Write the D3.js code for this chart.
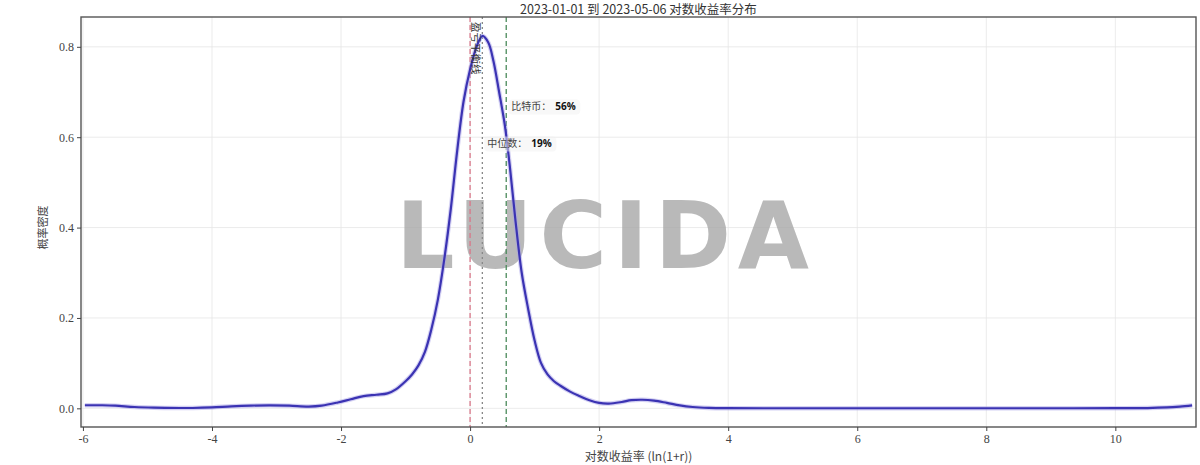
<!DOCTYPE html>
<html>
<head>
<meta charset="utf-8">
<script src="https://cdn.jsdelivr.net/npm/d3@7"></script>
<style>
  html, body { margin: 0; padding: 0; background: #fff; }
  svg { display: block; }
</style>
</head>
<body>
<div id="chart"></div>
<script>
// ---- data ----
const titleText = "2023-01-01 到 2023-05-06 对数收益率分布";
const xLabelText = "对数收益率 (ln(1+r))";
const yLabelText = "概率密度";
const xTicks = [-6, -4, -2, 0, 2, 4, 6, 8, 10];
const yTicks = [0.0, 0.2, 0.4, 0.6, 0.8];
const kdeX = [-5.97, -5.7, -5.5, -5.2, -4.9, -4.5, -4.3, -4.0, -3.7, -3.4, -3.1, -2.8, -2.5, -2.3, -2.05, -1.85, -1.65, -1.45, -1.28, -1.15,
  -1.0, -0.9, -0.8, -0.7, -0.6, -0.5, -0.4, -0.3, -0.2, -0.1, 0.0, 0.1, 0.19, 0.28, 0.36, 0.45, 0.54, 0.62, 0.7, 0.8, 0.9, 1.0, 1.1, 1.2, 1.3, 1.4,
  1.55, 1.7, 1.85, 2.0, 2.15, 2.35, 2.5, 2.67, 2.85, 3.05, 3.25, 3.45, 3.7, 4.0, 5.0, 6.0, 7.0, 8.0, 9.0, 10.0, 10.5, 10.8, 11.0, 11.19];
const kdeY = [0.0068, 0.0068, 0.006, 0.003, 0.0015, 0.0008, 0.0008, 0.002, 0.0044, 0.006, 0.0066, 0.0058, 0.004, 0.006, 0.013, 0.02, 0.027, 0.03, 0.033, 0.042,
  0.06, 0.075, 0.095, 0.125, 0.175, 0.24, 0.33, 0.44, 0.57, 0.68, 0.75, 0.80, 0.824, 0.81, 0.77, 0.70, 0.625, 0.53, 0.42, 0.30, 0.22, 0.15, 0.10, 0.075, 0.06, 0.05,
  0.037, 0.027, 0.018, 0.012, 0.0105, 0.014, 0.018, 0.019, 0.017, 0.012, 0.0065, 0.003, 0.001, 0.0003, 0.0002, 0.0002, 0.0002, 0.0002, 0.0002, 0.0003, 0.0006, 0.002, 0.004, 0.0066];
const refLabels = ["盈亏平衡线", "中位数", "比特币"];
const refValues = [0, 0.19, 0.56];
const refPct = ["", "19%", "56%"];
const watermark = "LUCIDA";

// ---- layout ----
const W = 1200, H = 465;
const m = { left: 81, right: 4, top: 17, bottom: 38 };
const pw = W - m.left - m.right, ph = H - m.top - m.bottom;

const svg = d3.select("#chart").append("svg").attr("width", W).attr("height", H);
const g = svg.append("g").attr("transform", `translate(${m.left},${m.top})`);

const x = d3.scaleLinear().domain([-6.03, 11.25]).range([0, pw]);
const y = d3.scaleLinear().domain([-0.0413, 0.866]).range([ph, 0]);

const serif = "'Liberation Serif','DejaVu Serif','Noto Sans CJK SC',serif";
const cjk = "'Noto Sans CJK SC','Liberation Serif',sans-serif";

// grid
g.append("g").selectAll("line").data(xTicks).join("line")
  .attr("x1", d => x(d)).attr("x2", d => x(d)).attr("y1", 0).attr("y2", ph)
  .attr("stroke", "#e6e6e6").attr("stroke-width", 0.8);
g.append("g").selectAll("line").data(yTicks).join("line")
  .attr("x1", 0).attr("x2", pw).attr("y1", d => y(d)).attr("y2", d => y(d))
  .attr("stroke", "#e6e6e6").attr("stroke-width", 0.8);

// watermark (centered in the plot)
g.append("text")
  .attr("x", pw / 2 - 36).attr("y", y(0.4) + 40)
  .attr("text-anchor", "middle")
  .attr("font-family", "'DejaVu Sans','Liberation Sans',sans-serif")
  .attr("font-weight", 700).attr("font-size", 92)
  .attr("textLength", 413).attr("lengthAdjust", "spacing")
  .attr("fill", "#a8a8a8").attr("fill-opacity", 0.8)
  .text(watermark);

// reference lines
const refColors = ["#d9788a", "#888888", "#4a8a5a"];
const refDash = ["5,3", "2,3", "5,3"];
g.append("g").selectAll("line").data(refValues).join("line")
  .attr("x1", d => x(d)).attr("x2", d => x(d)).attr("y1", 0).attr("y2", ph)
  .attr("stroke", (d, i) => refColors[i]).attr("stroke-width", 1.3)
  .attr("stroke-dasharray", (d, i) => refDash[i]);

// kde curve
const pts = kdeX.map((v, i) => [v, kdeY[i]]);
const line = d3.line().x(d => x(d[0])).y(d => y(d[1])).curve(d3.curveCatmullRom.alpha(0.5));
g.append("path").datum(pts).attr("d", line).attr("fill", "none")
  .attr("stroke", "#a9a4e8").attr("stroke-width", 4.5).attr("stroke-opacity", 0.5);
g.append("path").datum(pts).attr("d", line).attr("fill", "none")
  .attr("stroke", "#3b33b3").attr("stroke-width", 2.2);

// rotated label on break-even line
g.append("text")
  .attr("transform", `translate(${x(refValues[0]) + 5},${y(0.866) + 5}) rotate(90)`)
  .attr("font-family", cjk).attr("font-size", 10.5).attr("fill", "#333")
  .attr("dominant-baseline", "middle")
  .text(refLabels[0]);

// annotations
function annot(i, px, py) {
  const t = g.append("g").attr("transform", `translate(${px},${py})`);
  t.append("rect").attr("x", -3).attr("y", -8).attr("width", 72).attr("height", 15)
    .attr("rx", 4).attr("fill", "#f2f2f2").attr("fill-opacity", 0.5);
  t.append("text").attr("x", 0).attr("y", 0).attr("dominant-baseline", "middle")
    .attr("font-family", cjk).attr("font-size", 10).attr("fill", "#444")
    .text(refLabels[i] + "：");
  t.append("text").attr("x", 44).attr("y", 0).attr("dominant-baseline", "middle")
    .attr("font-family", "'Open Sans','Liberation Sans',sans-serif").attr("font-weight", 700)
    .attr("font-size", 10).attr("fill", "#111")
    .text(refPct[i]);
}
annot(2, x(refValues[2]) + 5, y(0.666));
annot(1, x(refValues[1]) + 5, y(0.584));

// frame
g.append("rect").attr("x", 0).attr("y", 0).attr("width", pw).attr("height", ph)
  .attr("fill", "none").attr("stroke", "#555").attr("stroke-width", 1.4);

// axes
const xa = g.append("g").attr("transform", `translate(0,${ph})`)
  .call(d3.axisBottom(x).tickValues(xTicks).tickSize(4).tickPadding(3).tickFormat(d => String(d)));
const ya = g.append("g")
  .call(d3.axisLeft(y).tickValues(yTicks).tickSize(4).tickPadding(3).tickFormat(d3.format(".1f")));
[xa, ya].forEach(a => {
  a.select(".domain").remove();
  a.selectAll(".tick line").attr("stroke", "#444");
  a.selectAll(".tick text").attr("font-family", serif).attr("font-size", 12).attr("fill", "#444");
});

// titles
svg.append("text").attr("x", m.left + pw / 2).attr("y", 14)
  .attr("text-anchor", "middle").attr("font-family", cjk).attr("font-size", 12.5).attr("fill", "#333")
  .text(titleText);
svg.append("text").attr("x", m.left + pw / 2).attr("y", 461)
  .attr("text-anchor", "middle").attr("font-family", cjk).attr("font-size", 12).attr("fill", "#444")
  .text(xLabelText);
svg.append("text").attr("transform", `translate(47,${m.top + y(0.4)}) rotate(-90)`)
  .attr("text-anchor", "middle").attr("font-family", cjk).attr("font-size", 11).attr("fill", "#444")
  .text(yLabelText);
</script>
</body>
</html>
